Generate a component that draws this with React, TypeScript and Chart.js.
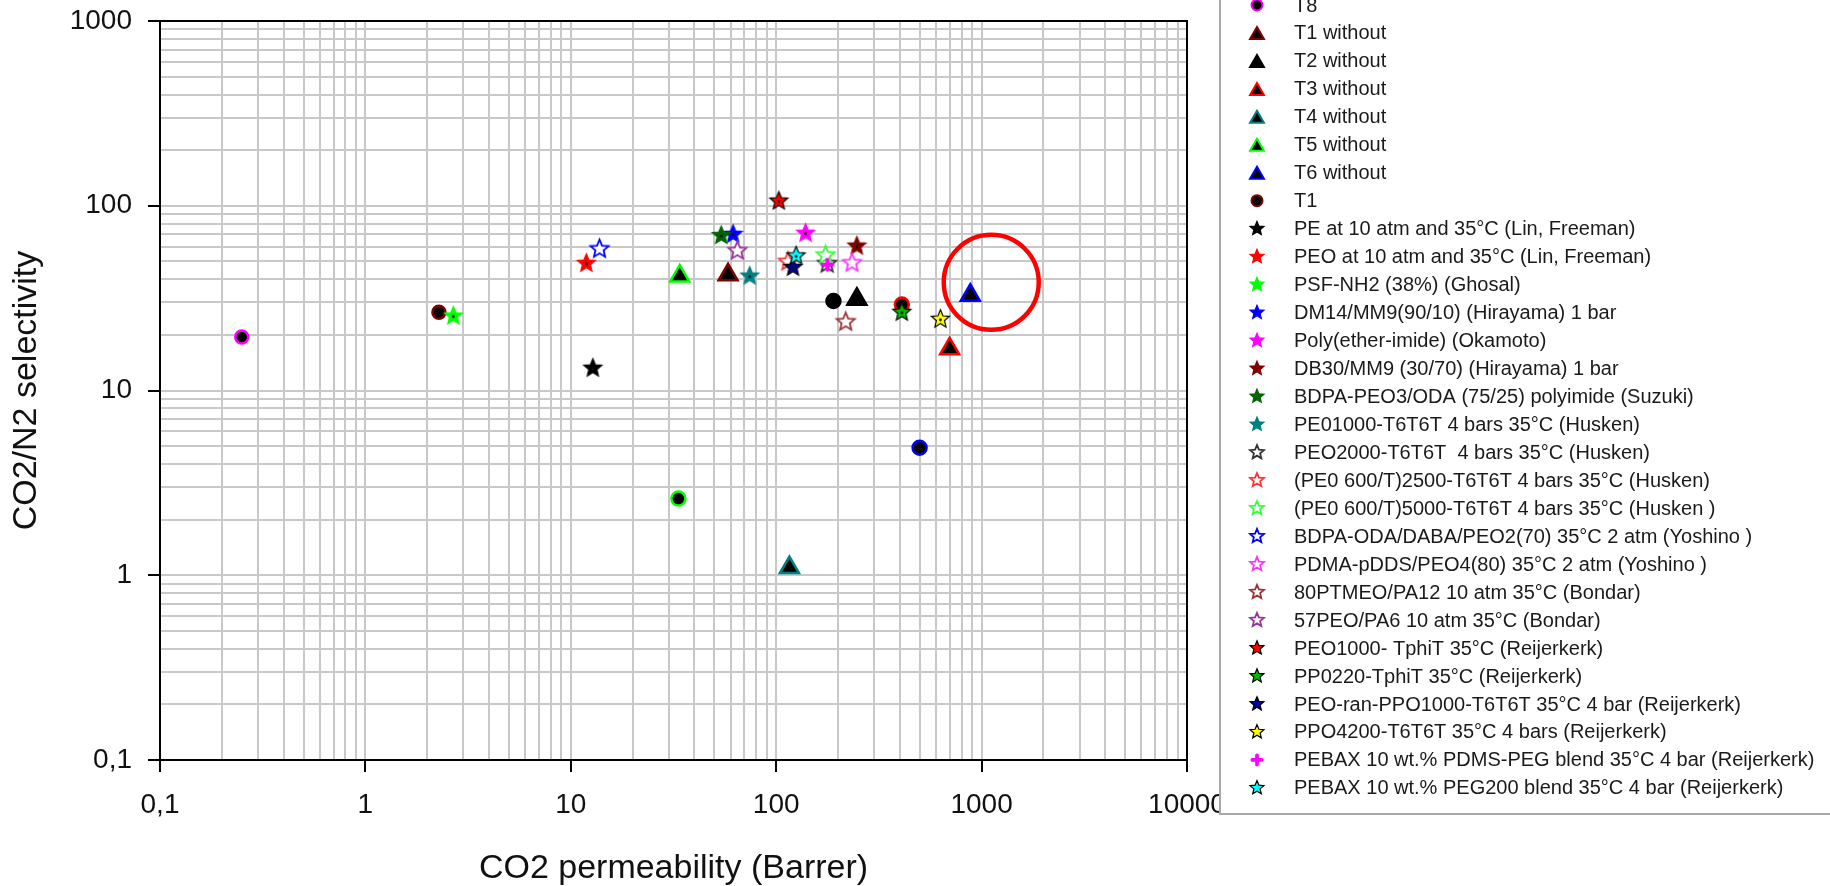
import React, { useEffect, useRef } from "react";
import { Chart, registerables } from "chart.js";

Chart.register(...registerables);

const FONT = "'Liberation Sans', Arial, Helvetica, sans-serif";

// ---------------- data ----------------
const seriesLabels = [
  "T8",
  "T1 without",
  "T2 without",
  "T3 without",
  "T4 without",
  "T5 without",
  "T6 without",
  "T1",
  "PE at 10 atm and 35°C (Lin, Freeman)",
  "PEO at 10 atm and 35°C (Lin, Freeman)",
  "PSF-NH2 (38%) (Ghosal)",
  "DM14/MM9(90/10) (Hirayama) 1 bar",
  "Poly(ether-imide) (Okamoto)",
  "DB30/MM9 (30/70) (Hirayama) 1 bar",
  "BDPA-PEO3/ODA (75/25) polyimide (Suzuki)",
  "PE01000-T6T6T 4 bars 35°C (Husken)",
  "PEO2000-T6T6T  4 bars 35°C (Husken)",
  "(PE0 600/T)2500-T6T6T 4 bars 35°C (Husken)",
  "(PE0 600/T)5000-T6T6T 4 bars 35°C (Husken )",
  "BDPA-ODA/DABA/PEO2(70) 35°C 2 atm (Yoshino )",
  "PDMA-pDDS/PEO4(80) 35°C 2 atm (Yoshino )",
  "80PTMEO/PA12 10 atm 35°C (Bondar)",
  "57PEO/PA6 10 atm 35°C (Bondar)",
  "PEO1000- TphiT 35°C (Reijerkerk)",
  "PP0220-TphiT 35°C (Reijerkerk)",
  "PEO-ran-PPO1000-T6T6T 35°C 4 bar (Reijerkerk)",
  "PPO4200-T6T6T 35°C 4 bars (Reijerkerk)",
  "PEBAX 10 wt.% PDMS-PEG blend 35°C 4 bar (Reijerkerk)",
  "PEBAX 10 wt.% PEG200 blend 35°C 4 bar (Reijerkerk)",
];

// CO2 permeability (Barrer)
const permeability = [
  0.25, 58.3, 247, 699, 116, 33.9, 881, 2.28,
  12.8, 11.9, 2.68, 61.7, 139, 247, 54, 74.3,
  177, 114, 174, 13.8, 234, 218, 64.7, 103,
  409, 120.7, 630, 177.5, 125,
];

// CO2/N2 selectivity
const selectivity = [
  19.5, 42.3, 31.2, 16.8, 1.1, 41.7, 32.8, 26.5,
  13.2, 48.8, 25.3, 70, 71, 60.5, 69, 41.6,
  48.5, 49.8, 54, 58.3, 49, 23.5, 57, 106,
  26.5, 46.4, 24.3, 48, 53.5,
];

// series whose legend entries lie above the visible legend area
const offLegendLabels = ["T2", "T3", "T5", "T6"];
const offLegendPermeability = [190, 409, 33.4, 499];
const offLegendSelectivity = [30.5, 29.2, 2.6, 4.9];

// highlighted region (red ring)
const highlightPermeability = [1114];
const highlightSelectivity = [38.5];

const xTickLabels = ["0,1", "1", "10", "100", "1000", "10000"];
const yTickLabels = ["0,1", "1", "10", "100", "1000"];

// ---------------- styles ----------------
const markerKinds = [
  "circle", "triangle", "triangle", "triangle", "triangle", "triangle", "triangle", "circle",
  "star", "star", "star", "star", "star", "star", "star", "star",
  "ostar", "ostar", "ostar", "ostar", "ostar", "ostar", "ostar",
  "star", "star", "star", "star", "plus", "star",
];
const markerColors = [
  "#ff00ff", "#800000", "#000000", "#ff0000", "#008080", "#00ff00", "#0000ff", "#800000",
  "#000000", "#ff0000", "#00ff00", "#0000ff", "#ff00ff", "#800000", "#006600", "#008080",
  "#333333", "#ff3333", "#33ff33", "#0000ff", "#ff33ff", "#993333", "#993399",
  "#ff0000", "#00bb00", "#000099", "#ffff00", "#ff00ff", "#00ffff",
];
const markerEdges = [
  "#ff00ff", "#800000", "#000000", "#ff0000", "#008080", "#00ff00", "#0000ff", "#800000",
  "#000000", "#ff0000", "#00ff00", "#0000ff", "#ff00ff", "#800000", "#006600", "#008080",
  "#333333", "#ff3333", "#33ff33", "#0000ff", "#ff33ff", "#993333", "#993399",
  "#000000", "#000000", "#000000", "#000000", "#ff00ff", "#000000",
];
const offLegendColors = ["#000000", "#ff0000", "#00ff00", "#0000ff"];

// ---------------- helpers ----------------
function logTickValues(minExp: number, maxExp: number): number[] {
  const out: number[] = [];
  for (let e = minExp; e < maxExp; e++) {
    for (let m = 1; m <= 9; m++) out.push(Number((m * Math.pow(10, e)).toPrecision(6)));
  }
  out.push(Number(Math.pow(10, maxExp).toPrecision(6)));
  return out;
}
function isMajor(v: number): boolean {
  const l = Math.log10(v);
  return Math.abs(l - Math.round(l)) < 1e-9;
}
function labelFor(v: number, labels: string[], minExp: number): string {
  if (!isMajor(v)) return "";
  const idx = Math.round(Math.log10(v)) - minExp;
  return labels[idx] ?? "";
}

function starPath(ctx: CanvasRenderingContext2D, cx: number, cy: number, R: number) {
  const r = R * 0.45;
  ctx.beginPath();
  for (let i = 0; i < 10; i++) {
    const a = -Math.PI / 2 + (i * Math.PI) / 5;
    const rad = i % 2 === 0 ? R : r;
    const x = cx + rad * Math.cos(a);
    const y = cy + rad * Math.sin(a);
    if (i === 0) ctx.moveTo(x, y);
    else ctx.lineTo(x, y);
  }
  ctx.closePath();
}

function drawMarker(
  ctx: CanvasRenderingContext2D,
  kind: string,
  cx: number,
  cy: number,
  color: string,
  edge: string,
  size: number,
  dot: boolean
) {
  ctx.save();
  if (kind === "star") {
    starPath(ctx, cx, cy, size);
    ctx.fillStyle = color;
    ctx.fill();
    ctx.lineWidth = 1.2;
    ctx.strokeStyle = edge;
    ctx.stroke();
    if (dot) {
      ctx.beginPath();
      ctx.arc(cx, cy + 0.5, 1.4, 0, Math.PI * 2);
      ctx.fillStyle = "#111";
      ctx.fill();
    }
  } else if (kind === "ostar") {
    starPath(ctx, cx, cy, size);
    ctx.fillStyle = "#ffffff";
    ctx.fill();
    ctx.lineWidth = 1.8;
    ctx.strokeStyle = color;
    ctx.stroke();
  } else if (kind === "plus") {
    const a = size * 0.62;
    ctx.lineCap = "round";
    ctx.lineWidth = size * 0.5;
    ctx.strokeStyle = color;
    ctx.beginPath();
    ctx.moveTo(cx - a, cy);
    ctx.lineTo(cx + a, cy);
    ctx.moveTo(cx, cy - a);
    ctx.lineTo(cx, cy + a);
    ctx.stroke();
  } else if (kind === "circle") {
    ctx.beginPath();
    ctx.arc(cx, cy, size, 0, Math.PI * 2);
    ctx.fillStyle = "#000";
    ctx.fill();
    ctx.lineWidth = 2;
    ctx.strokeStyle = color;
    ctx.stroke();
  } else if (kind === "triangle") {
    const r = size;
    const y0 = cy + r / 4;
    ctx.beginPath();
    ctx.moveTo(cx, y0 - r);
    ctx.lineTo(cx + 0.866 * r, y0 + 0.5 * r);
    ctx.lineTo(cx - 0.866 * r, y0 + 0.5 * r);
    ctx.closePath();
    ctx.fillStyle = "#000";
    ctx.fill();
    ctx.lineWidth = 2;
    ctx.strokeStyle = color;
    ctx.stroke();
  }
  ctx.restore();
}

function makeMarkerCanvas(kind: string, color: string, edge: string, size: number): HTMLCanvasElement {
  const c = document.createElement("canvas");
  const s = Math.ceil(2 * size + 6);
  c.width = s;
  c.height = s;
  const ctx = c.getContext("2d")!;
  drawMarker(ctx, kind, s / 2, s / 2, color, edge, size, kind === "star");
  return c;
}

// ---------------- plugins ----------------
const frameAndLegend = {
  id: "frameAndLegend",
  beforeDatasetsDraw(chart: any) {
    const { ctx, chartArea } = chart;
    ctx.save();
    ctx.strokeStyle = "#000";
    ctx.lineWidth = 2;
    ctx.strokeRect(chartArea.left, chartArea.top, chartArea.right - chartArea.left, chartArea.bottom - chartArea.top);
    ctx.restore();
  },
  afterDraw(chart: any) {
    const ctx: CanvasRenderingContext2D = chart.ctx;
    const boxLeft = 1220;
    const boxTop = -10;
    const boxBottom = 814;
    ctx.save();
    ctx.fillStyle = "#ffffff";
    ctx.fillRect(boxLeft, boxTop, 700, boxBottom - boxTop);
    ctx.strokeStyle = "#a8a8a8";
    ctx.lineWidth = 2;
    ctx.strokeRect(boxLeft, boxTop, 700, boxBottom - boxTop);
    const rowStart = 5;
    const rowStep = 27.96;
    const markerX = 1257;
    const textX = 1294;
    ctx.font = `20px ${FONT}`;
    ctx.textBaseline = "middle";
    ctx.textAlign = "left";
    chart.data.datasets.forEach((ds: any) => {
      if (ds.legendRow === undefined) return;
      const y = rowStart + ds.legendRow * rowStep;
      const kind = ds.markerKind;
      const size = kind === "circle" ? 5.5 : kind === "triangle" ? 8 : kind === "plus" ? 7.5 : 7.3;
      drawMarker(ctx, kind, markerX, y, ds.markerColor, ds.markerEdge, size, false);
      ctx.fillStyle = "#1a1a1a";
      ctx.fillText(ds.label, textX, y + 1);
    });
    ctx.restore();
  },
};

export default function App() {
  const ref = useRef<HTMLCanvasElement>(null);

  useEffect(() => {
    const canvas = ref.current;
    if (!canvas) return;

    const datasets: any[] = [];

    offLegendLabels.forEach((label, i) => {
      datasets.push({
        label,
        data: [{ x: offLegendPermeability[i], y: offLegendSelectivity[i] }],
        pointStyle: "circle",
        pointRadius: 7,
        borderWidth: 2.5,
        backgroundColor: "#000",
        borderColor: offLegendColors[i],
      });
    });

    seriesLabels.forEach((label, i) => {
      const kind = markerKinds[i];
      const base: any = {
        label,
        data: [{ x: permeability[i], y: selectivity[i] }],
        legendRow: i,
        markerKind: kind,
        markerColor: markerColors[i],
        markerEdge: markerEdges[i],
      };
      if (kind === "circle") {
        Object.assign(base, {
          pointStyle: "circle",
          pointRadius: 6.5,
          borderWidth: 2.5,
          backgroundColor: "#000",
          borderColor: markerColors[i],
        });
      } else if (kind === "triangle") {
        Object.assign(base, {
          pointStyle: "triangle",
          pointRadius: 11,
          borderWidth: 2.5,
          backgroundColor: "#000",
          borderColor: markerColors[i],
        });
      } else {
        Object.assign(base, {
          pointStyle: makeMarkerCanvas(kind, markerColors[i], markerEdges[i], kind === "plus" ? 8 : 9.5),
          pointRadius: 9,
          borderWidth: 0,
          backgroundColor: markerColors[i],
          borderColor: markerEdges[i],
        });
      }
      datasets.push(base);
    });

    datasets.push({
      label: "highlight",
      data: highlightPermeability.map((x, i) => ({ x, y: highlightSelectivity[i] })),
      pointStyle: "circle",
      pointRadius: 47.5,
      borderWidth: 4.5,
      backgroundColor: "rgba(0,0,0,0)",
      borderColor: "#ff0000",
      clip: false,
    });

    const n = datasets.length;
    datasets.forEach((d, i) => {
      d.order = n - i;
      d.showLine = false;
    });

    const tickColor = (ctx: any) => (ctx.tick && isMajor(ctx.tick.value) ? "#000" : "rgba(0,0,0,0)");

    const chart = new Chart(canvas, {
      type: "scatter",
      data: { datasets },
      options: {
        animation: false,
        responsive: false,
        events: [],
        layout: { autoPadding: false, padding: { top: 21, right: 643, bottom: 0, left: 0 } },
        plugins: {
          legend: { display: false },
          tooltip: { enabled: false },
        },
        scales: {
          x: {
            type: "logarithmic",
            min: 0.1,
            max: 10000,
            afterBuildTicks: (scale: any) => {
              scale.ticks = logTickValues(-1, 4).map((v) => ({ value: v }));
            },
            afterFit: (scale: any) => {
              scale.height = 126;
              scale.paddingLeft = 0;
              scale.paddingRight = 0;
            },
            grid: {
              color: "#c8c8c8",
              lineWidth: 2,
              drawTicks: true,
              tickLength: 12,
              tickWidth: 2,
              tickColor,
            },
            border: { display: true, color: "#000", width: 2 },
            ticks: {
              autoSkip: false,
              maxRotation: 0,
              minRotation: 0,
              padding: 16,
              color: "#111",
              font: { family: FONT, size: 28 },
              callback: (v: any) => labelFor(Number(v), xTickLabels, -1),
            },
            title: {
              display: true,
              text: "CO2 permeability (Barrer)",
              color: "#111",
              font: { family: FONT, size: 34, lineHeight: 1 },
              padding: 0,
            },
          },
          y: {
            type: "logarithmic",
            min: 0.1,
            max: 1000,
            afterBuildTicks: (scale: any) => {
              scale.ticks = logTickValues(-1, 3).map((v) => ({ value: v }));
            },
            afterFit: (scale: any) => {
              scale.width = 160;
              scale.paddingTop = 0;
              scale.paddingBottom = 0;
            },
            grid: {
              color: "#c8c8c8",
              lineWidth: 2,
              drawTicks: true,
              tickLength: 12,
              tickWidth: 2,
              tickColor,
            },
            border: { display: true, color: "#000", width: 2 },
            ticks: {
              autoSkip: false,
              padding: 16,
              color: "#111",
              font: { family: FONT, size: 28 },
              callback: (v: any) => labelFor(Number(v), yTickLabels, -1),
            },
            title: {
              display: true,
              text: "CO2/N2 selectivity",
              color: "#111",
              font: { family: FONT, size: 34, lineHeight: 1 },
              padding: { top: 10, bottom: 0 },
            },
          },
        },
      } as any,
      plugins: [frameAndLegend],
    });

    return () => chart.destroy();
  }, []);

  return (
    <div style={{ position: "absolute", left: 0, top: 0, width: 1830, height: 886, background: "#fff", overflow: "hidden" }}>
      <canvas ref={ref} width={1830} height={886} style={{ display: "block", width: 1830, height: 886 }} />
    </div>
  );
}
